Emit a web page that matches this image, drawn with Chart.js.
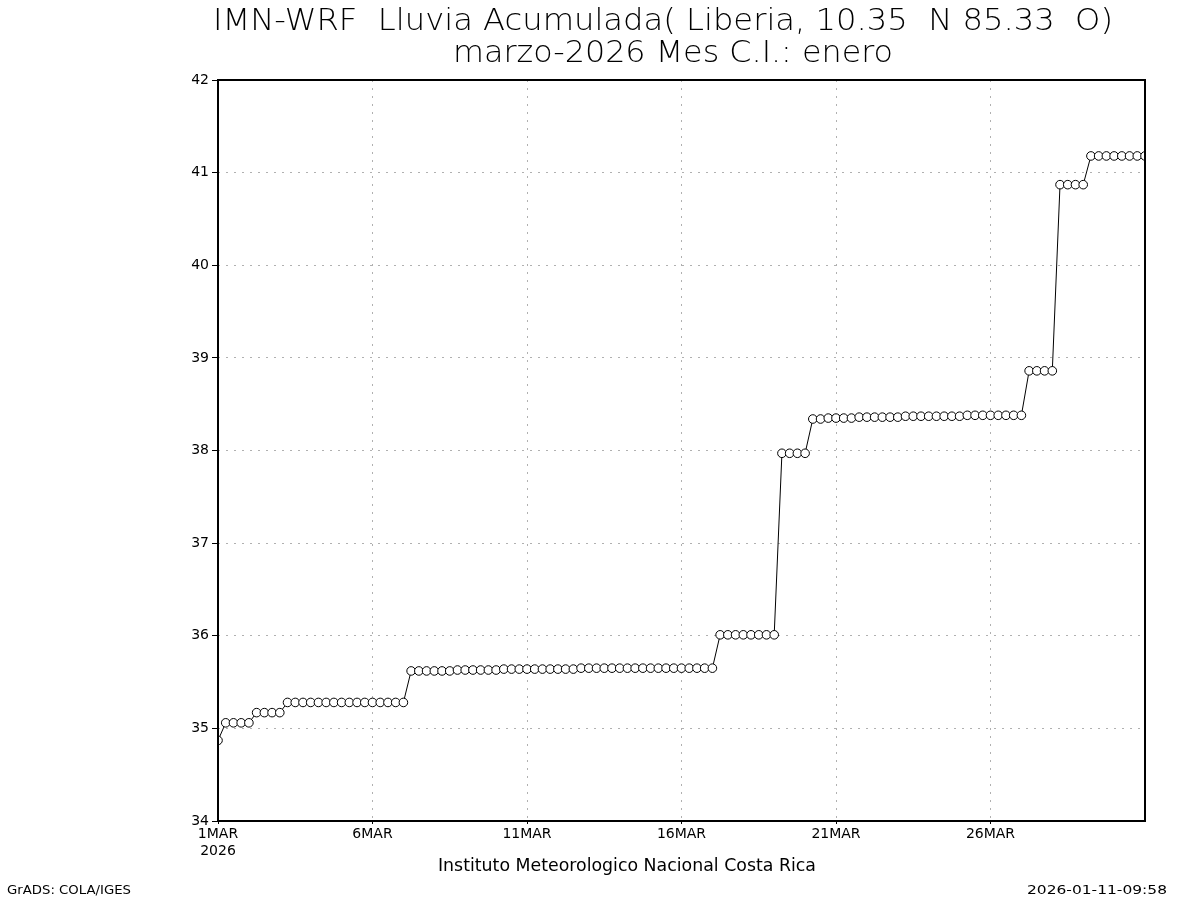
<!DOCTYPE html>
<html>
<head>
<meta charset="utf-8">
<script src="https://cdn.jsdelivr.net/npm/chart.js@4"></script>
<style>
  html, body { margin: 0; padding: 0; background: #fff; }
  #wrap { position: relative; width: 1200px; height: 900px; }
  canvas { display: block; }
</style>
</head>
<body>
<div id="wrap"><canvas id="c" width="1200" height="900"></canvas></div>
<script>
// ---- data (6-hourly accumulated rain, mm) ----
const titleLines = ['IMN-WRF  Lluvia Acumulada( Liberia, 10.35  N 85.33  O)', 'marzo-2026 Mes C.I.: enero'];
const footerCenter = 'Instituto Meteorologico Nacional Costa Rica';
const footerLeft = 'GrADS: COLA/IGES';
const footerRight = '2026-01-11-09:58';
const stepsPerDay = 4;
const dayTickLabels = ['1MAR', '6MAR', '11MAR', '16MAR', '21MAR', '26MAR'];
const dayTickDays = [0, 5, 10, 15, 20, 25];
const firstTickYear = '2026';
const yTicks = [34, 35, 36, 37, 38, 39, 40, 41, 42];
const rainValues = [
  34.87,
  35.06, 35.06, 35.06, 35.06,
  35.17, 35.17, 35.17, 35.17,
  35.28, 35.28, 35.28, 35.28, 35.28, 35.28, 35.28, 35.28,
  35.28, 35.28, 35.28, 35.28, 35.28, 35.28, 35.28, 35.28,
  35.62, 35.62, 35.62, 35.62, 35.62, 35.62, 35.63, 35.63, 35.63, 35.63, 35.63, 35.63,
  35.64, 35.64, 35.64, 35.64, 35.64, 35.64, 35.64, 35.64, 35.64, 35.64,
  35.65, 35.65, 35.65, 35.65, 35.65, 35.65, 35.65, 35.65, 35.65,
  35.65, 35.65, 35.65, 35.65, 35.65, 35.65, 35.65, 35.65, 35.65,
  36.01, 36.01, 36.01, 36.01, 36.01, 36.01, 36.01, 36.01,
  37.97, 37.97, 37.97, 37.97,
  38.34, 38.34, 38.35, 38.35, 38.35, 38.35,
  38.36, 38.36, 38.36, 38.36, 38.36, 38.36,
  38.37, 38.37, 38.37, 38.37, 38.37, 38.37, 38.37, 38.37,
  38.38, 38.38, 38.38, 38.38, 38.38, 38.38, 38.38, 38.38,
  38.86, 38.86, 38.86, 38.86,
  40.87, 40.87, 40.87, 40.87,
  41.18, 41.18, 41.18, 41.18, 41.18, 41.18, 41.18, 41.18
];

const FONT = '"DejaVu Sans", sans-serif';

function drawFit(ctx, text, cx, baseline, size, targetW, align, weight) {
  ctx.save();
  ctx.font = (weight || 'normal') + ' ' + size + 'px ' + FONT;
  ctx.fillStyle = '#000';
  ctx.textBaseline = 'alphabetic';
  const w = ctx.measureText(text).width;
  const s = targetW / w;
  let x0;
  if (align === 'left') x0 = cx;
  else if (align === 'right') x0 = cx - targetW;
  else x0 = cx - targetW / 2;
  ctx.translate(x0, baseline);
  ctx.scale(s, 1);
  ctx.textAlign = 'left';
  ctx.fillText(text, 0, 0);
  ctx.restore();
}

const decorPlugin = {
  id: 'decor',
  afterDatasetsDraw(chart) {
    const ctx = chart.ctx;
    const a = chart.chartArea;
    ctx.save();
    ctx.strokeStyle = '#000';
    ctx.lineWidth = 2;
    ctx.setLineDash([]);
    ctx.strokeRect(a.left, a.top, a.right - a.left, a.bottom - a.top);
    ctx.restore();
  },
  afterDraw(chart) {
    const ctx = chart.ctx;
    drawFit(ctx, titleLines[0], 663, 30, 30, 900, 'center', '200');
    drawFit(ctx, titleLines[1], 673, 62, 30, 440, 'center', '200');
    drawFit(ctx, footerCenter, 627, 871, 17, 378, 'center', 'normal');
    drawFit(ctx, footerLeft, 7, 894, 13, 124, 'left', 'normal');
    drawFit(ctx, footerRight, 1167, 894, 13, 140, 'right', 'normal');
  }
};

const points = rainValues.map((v, i) => ({ x: i, y: v }));
const xTickValues = dayTickDays.map(d => d * stepsPerDay);

new Chart(document.getElementById('c'), {
  type: 'line',
  data: {
    datasets: [{
      data: points,
      borderColor: '#000',
      borderWidth: 1,
      tension: 0,
      pointRadius: 4.3,
      pointBorderWidth: 1,
      pointBackgroundColor: '#fff',
      pointBorderColor: '#000'
    }]
  },
  options: {
    responsive: false,
    animation: false,
    events: [],
    layout: { padding: { left: 0, top: 80, right: 55, bottom: 0 } },
    plugins: { legend: { display: false }, tooltip: { enabled: false }, title: { display: false } },
    scales: {
      x: {
        type: 'linear',
        min: 0,
        max: (stepsPerDay * 30),
        afterBuildTicks: s => { s.ticks = xTickValues.map(v => ({ value: v })); },
        afterFit: s => { s.height = 79; },
        ticks: {
          autoSkip: false,
          maxRotation: 0,
          minRotation: 0,
          color: '#000',
          padding: 2,
          font: { family: FONT, size: 14, lineHeight: 1.2 },
          callback: (v) => {
            const i = xTickValues.indexOf(v);
            if (i < 0) return '';
            return i === 0 ? [dayTickLabels[i], firstTickYear] : dayTickLabels[i];
          }
        },
        grid: { color: '#b0b0b0', lineWidth: 1, tickColor: '#000', tickLength: 3 },
        border: { display: false, dash: [2, 6] }
      },
      y: {
        min: 34,
        max: 42,
        afterBuildTicks: s => { s.ticks = yTicks.map(v => ({ value: v })); },
        afterFit: s => { s.width = 218; },
        ticks: {
          color: '#000',
          padding: 3,
          font: { family: FONT, size: 14 },
          callback: v => String(v)
        },
        grid: { color: '#b0b0b0', lineWidth: 1, tickColor: '#000', tickLength: 6 },
        border: { display: false, dash: [2, 6] }
      }
    }
  },
  plugins: [decorPlugin]
});
</script>
</body>
</html>
